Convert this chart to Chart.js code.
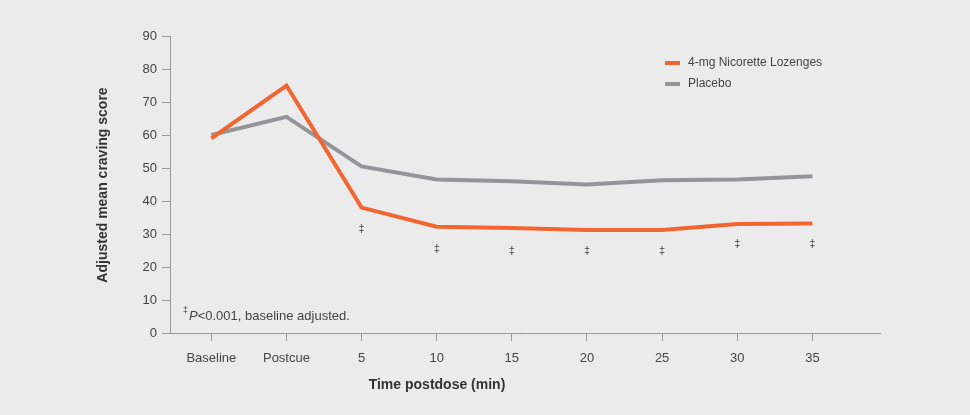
<!DOCTYPE html>
<html>
<head>
<meta charset="utf-8">
<script src="https://cdn.jsdelivr.net/npm/chart.js@4"></script>
<style>
  body { margin: 0; background: #ebebeb; }
  #wrap { width: 970px; height: 415px; }
</style>
</head>
<body>
<div id="wrap"><canvas id="grafico" width="970" height="415"></canvas></div>
<script>
// Dados
const categorias = ['Baseline', 'Postcue', '5', '10', '15', '20', '25', '30', '35'];
const nicorette = [59, 75, 38, 32.2, 31.8, 31.2, 31.2, 33, 33.2];
const placebo = [60, 65.5, 50.5, 46.5, 46, 45, 46.3, 46.5, 47.5];
const marcasSignificancia = [31.5, 25.5, 25, 25, 25, 27, 27]; // a partir de "5"
const ticksY = [0, 10, 20, 30, 40, 50, 60, 70, 80, 90];

const fonte = '"Liberation Sans", Arial, sans-serif';
const corTexto = '#444';
const corLaranja = '#f26531';
const corCinza = '#939598';

// Plugin para títulos, legenda e marcas ‡
const extras = {
    id: 'extras',
    afterDraw(chart) {
        const ctx = chart.ctx;
        const x = chart.scales.x, y = chart.scales.y;
        ctx.save();
        ctx.fillStyle = corTexto;

        // marcas de significância
        ctx.font = '11px ' + fonte;
        ctx.textAlign = 'center';
        ctx.textBaseline = 'middle';
        marcasSignificancia.forEach((v, i) => {
            ctx.fillText('\u2021', x.getPixelForValue(i + 2), y.getPixelForValue(v));
        });

        // título eixo x
        ctx.font = 'bold 14px ' + fonte;
        ctx.fillStyle = '#333';
        ctx.fillText('Time postdose (min)', 437, 385);

        // título eixo y
        ctx.save();
        ctx.translate(103, 185);
        ctx.rotate(-Math.PI / 2);
        ctx.fillText('Adjusted mean craving score', 0, 0);
        ctx.restore();

        // nota de rodapé
        ctx.textAlign = 'left';
        ctx.fillStyle = corTexto;
        ctx.font = '9px ' + fonte;
        ctx.fillText('\u2021', 183, 311);
        ctx.font = 'italic 13px ' + fonte;
        ctx.fillText('P', 189, 316);
        let px = 189 + ctx.measureText('P').width;
        ctx.font = '13px ' + fonte;
        ctx.fillText('<0.001, baseline adjusted.', px, 316);

        // legenda
        const itens = [['4-mg Nicorette Lozenges', corLaranja], ['Placebo', corCinza]];
        itens.forEach((it, i) => {
            const ly = 63 + i * 21;
            ctx.strokeStyle = it[1];
            ctx.lineWidth = 4;
            ctx.beginPath();
            ctx.moveTo(665, ly);
            ctx.lineTo(680, ly);
            ctx.stroke();
            ctx.font = '12px ' + fonte;
            ctx.fillStyle = corTexto;
            ctx.fillText(it[0], 688, ly);
        });
        ctx.restore();
    }
};

new Chart(document.getElementById('grafico'), {
    type: 'line',
    data: {
        datasets: [{
            label: '4-mg Nicorette Lozenges',
            data: nicorette.map((v, i) => ({ x: i, y: v })),
            borderColor: corLaranja,
            borderWidth: 4,
            pointRadius: 0,
            tension: 0
        }, {
            label: 'Placebo',
            data: placebo.map((v, i) => ({ x: i, y: v })),
            borderColor: corCinza,
            borderWidth: 4,
            pointRadius: 0,
            tension: 0
        }]
    },
    options: {
        responsive: false,
        animation: false,
        layout: { padding: { left: 0, right: 90, top: 36, bottom: 0 } },
        plugins: { legend: { display: false }, tooltip: { enabled: false } },
        scales: {
            x: {
                type: 'linear',
                min: -0.55,
                max: 8.9,
                afterBuildTicks: s => { s.ticks = categorias.map((c, i) => ({ value: i })); },
                afterFit: s => { s.height = 82; },
                border: { color: '#999', width: 1 },
                grid: { drawOnChartArea: false, drawTicks: true, tickLength: 8, color: '#999' },
                ticks: {
                    callback: v => categorias[v],
                    color: corTexto,
                    font: { family: fonte, size: 13 },
                    padding: 10,
                    maxRotation: 0
                }
            },
            y: {
                min: 0,
                max: 90,
                afterBuildTicks: s => { s.ticks = ticksY.map(v => ({ value: v })); },
                afterFit: s => { s.width = 170; },
                border: { color: '#999', width: 1 },
                grid: { drawOnChartArea: false, drawTicks: true, tickLength: 8, color: '#999' },
                ticks: {
                    color: corTexto,
                    font: { family: fonte, size: 13 },
                    padding: 5
                }
            }
        }
    },
    plugins: [extras]
});
</script>
</body>
</html>
